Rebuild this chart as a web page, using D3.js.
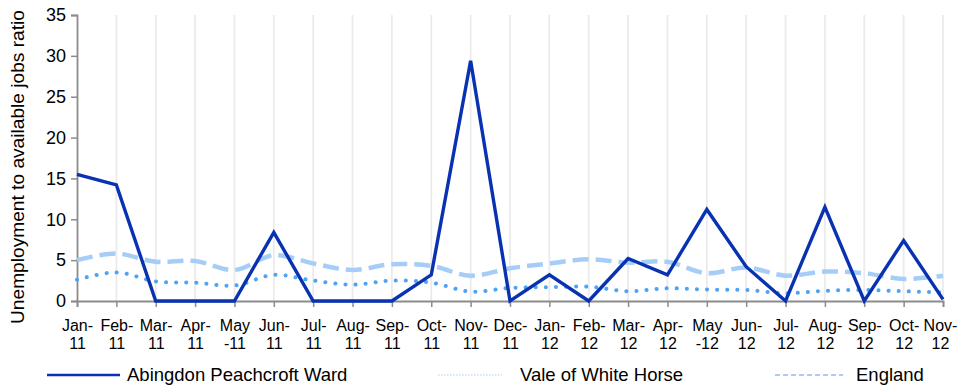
<!DOCTYPE html>
<html>
<head>
<meta charset="utf-8">
<script src="https://cdn.jsdelivr.net/npm/d3@7"></script>
<style>
  html, body { margin: 0; padding: 0; background: #fff; }
  svg { display: block; font-family: "Liberation Sans", Arial, sans-serif; }
</style>
</head>
<body>
<svg id="chart" width="957" height="386"></svg>
<script>
// Monthly labels, split into two lines each
const months = ["Jan-|11","Feb-|11","Mar-|11","Apr-|11","May|-11","Jun-|11","Jul-|11","Aug-|11","Sep-|11","Oct-|11","Nov-|11","Dec-|11",
                "Jan-|12","Feb-|12","Mar-|12","Apr-|12","May|-12","Jun-|12","Jul-|12","Aug-|12","Sep-|12","Oct-|12","Nov-|12"];

const abingdon = [15.5, 14.2, 0, 0, 0, 8.4, 0, 0, 0, 3.2, 29.4, 0, 3.2, 0, 5.2, 3.2, 11.2, 4.2, 0, 11.5, 0, 7.4, 0.2];
const vale     = [2.6, 3.5, 2.4, 2.25, 1.9, 3.2, 2.5, 2.0, 2.5, 2.25, 1.15, 1.6, 1.7, 1.75, 1.2, 1.55, 1.4, 1.35, 0.95, 1.25, 1.35, 1.2, 1.05];
const england  = [5.0, 5.8, 4.8, 4.9, 3.8, 5.6, 4.6, 3.8, 4.5, 4.3, 3.1, 4.0, 4.6, 5.1, 4.7, 4.8, 3.4, 4.1, 3.1, 3.6, 3.4, 2.7, 3.1];

const yTicks = [0, 5, 10, 15, 20, 25, 30, 35];

const seriesNames = ["Abingdon Peachcroft Ward", "Vale of White Horse", "England"];

const svg = d3.select("#chart");
const plotLeft = 77, plotRight = 943, plotTop = 15, plotBottom = 301;

const x = d3.scalePoint().domain(months).range([plotLeft, plotRight]);
const y = d3.scaleLinear().domain([0, 35]).range([plotBottom, plotTop]);

// Vertical gridlines at every month
svg.append("g")
  .selectAll("line")
  .data(months.slice(1))
  .join("line")
  .attr("x1", d => x(d)).attr("x2", d => x(d))
  .attr("y1", plotTop).attr("y2", plotBottom)
  .attr("stroke", "#ebebeb")
  .attr("stroke-width", 1.8);

// Y axis
const yAxis = svg.append("g")
  .attr("transform", `translate(${plotLeft},0)`)
  .call(d3.axisLeft(y).tickValues(yTicks).tickSize(6).tickPadding(5));
yAxis.select(".domain").attr("stroke", "#8c8c8c").attr("stroke-width", 1.8);
yAxis.selectAll(".tick line").attr("stroke", "#8c8c8c").attr("stroke-width", 1.5);
yAxis.selectAll(".tick text").attr("font-size", 18).attr("fill", "#000")
  .attr("font-family", "Liberation Sans, Arial, sans-serif");

// X axis
const xAxis = svg.append("g")
  .attr("transform", `translate(0,${plotBottom})`)
  .call(d3.axisBottom(x).tickSize(6).tickFormat(""));
xAxis.select(".domain").attr("stroke", "#8c8c8c").attr("stroke-width", 1.8);
xAxis.selectAll(".tick line").attr("stroke", "#8c8c8c").attr("stroke-width", 1.5);
xAxis.selectAll(".tick").each(function(d, i) {
  const parts = d.split("|");
  const dx = i === months.length - 1 ? -3 : 0;
  const t = d3.select(this).append("text")
    .attr("text-anchor", "middle")
    .attr("font-size", 16)
    .attr("fill", "#000")
    .attr("font-family", "Liberation Sans, Arial, sans-serif");
  t.append("tspan").attr("x", dx).attr("y", 30).text(parts[0]);
  t.append("tspan").attr("x", dx).attr("y", 48).text(parts[1]);
});

// Y axis title
svg.append("text")
  .attr("transform", `translate(24,167) rotate(-90)`)
  .attr("text-anchor", "middle")
  .attr("font-size", 17.5)
  .attr("textLength", 314)
  .attr("lengthAdjust", "spacingAndGlyphs")
  .attr("fill", "#000")
  .text("Unemployment to available jobs ratio");

// Series lines
const smooth = d3.line().x((d, i) => x(months[i])).y(d => y(d)).curve(d3.curveCatmullRom.alpha(0.5));
const straight = d3.line().x((d, i) => x(months[i])).y(d => y(d));

svg.append("path").datum(england)
  .attr("d", smooth).attr("fill", "none")
  .attr("stroke", "#a6cdf8").attr("stroke-width", 4.5)
  .attr("stroke-dasharray", "16 7");

svg.append("path").datum(vale)
  .attr("d", smooth).attr("fill", "none")
  .attr("stroke", "#4da3f5").attr("stroke-width", 4)
  .attr("stroke-linecap", "round")
  .attr("stroke-dasharray", "0.1 10");

svg.append("path").datum(abingdon)
  .attr("d", straight).attr("fill", "none")
  .attr("stroke", "#0832b2").attr("stroke-width", 3.4)
  .attr("stroke-linejoin", "miter");

// Legend
const legend = [
  { name: seriesNames[0], x1: 47, x2: 120, tx: 127, color: "#0832b2", w: 2.5, dash: null },
  { name: seriesNames[1], x1: 438, x2: 502, tx: 520, color: "#c8dff8", w: 1.5, dash: "1.5 1.5" },
  { name: seriesNames[2], x1: 775, x2: 843, tx: 856, color: "#a6cdf8", w: 2, dash: "5 3" }
];
const lg = svg.append("g").selectAll("g").data(legend).join("g");
lg.append("line")
  .attr("x1", d => d.x1).attr("x2", d => d.x2)
  .attr("y1", 375).attr("y2", 375)
  .attr("stroke", d => d.color).attr("stroke-width", d => d.w)
  .attr("stroke-dasharray", d => d.dash);
lg.append("text")
  .attr("x", d => d.tx).attr("y", 381)
  .attr("font-size", 18.5).attr("fill", "#000")
  .text(d => d.name);
</script>
</body>
</html>
